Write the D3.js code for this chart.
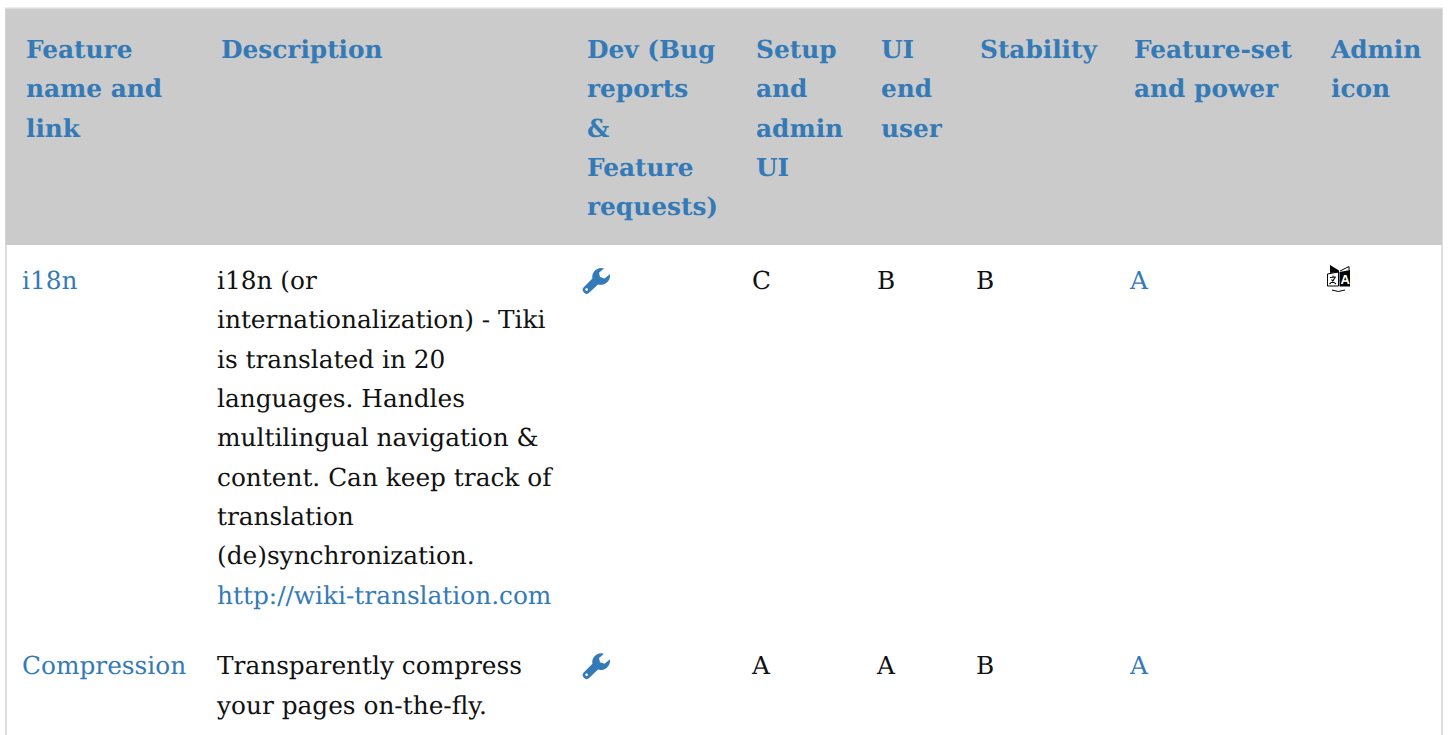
<!DOCTYPE html>
<html>
<head>
<meta charset="utf-8">
<style>
  html, body { margin: 0; padding: 0; background: #fff; overflow: hidden; }
  text { font-family: "DejaVu Serif"; font-size: 24.8px; text-rendering: geometricPrecision; }
  .head { font-weight: bold; fill: #337ab7; }
  .cell { fill: #111; }
  .link { fill: #337ab7; }
</style>
</head>
<body>
<svg width="1448" height="735"></svg>
<script src="https://d3js.org/d3.v7.min.js"></script>
<script>
var columns = ["name", "desc", "dev", "setup", "ui", "stability", "power", "icon"];

var headers = [
  ["Feature", "name and", "link"],
  ["Description"],
  ["Dev (Bug", "reports", "&", "Feature", "requests)"],
  ["Setup", "and", "admin", "UI"],
  ["UI", "end", "user"],
  ["Stability"],
  ["Feature-set", "and power"],
  ["Admin", "icon"]
];

var featureNames = ["i18n", "Compression"];
var descriptions = [
  ["i18n (or", "internationalization) - Tiki", "is translated in 20", "languages. Handles", "multilingual navigation &", "content. Can keep track of", "translation", "(de)synchronization."],
  ["Transparently compress", "your pages on-the-fly."]
];
var descriptionLinks = ["http://wiki-translation.com", null];
var setupGrades = ["C", "A"];
var uiGrades = ["B", "A"];
var stabilityGrades = ["B", "B"];
var powerGrades = ["A", "A"];
var adminIcons = [true, false];

var headX = [26, 221, 587, 756, 881, 980, 1134, 1331];
var bodyOffset = -4;
var lineH = 39.35;
var headTop = 58;
var rowTops = [289, 674.2];

var x = d3.scaleOrdinal().domain(columns).range(headX);
var bx = function(c) { return x(c) + bodyOffset; };

var svg = d3.select("svg");

// table frame
svg.append("rect").attr("x", 6).attr("y", 8.5).attr("width", 1436).attr("height", 740)
  .attr("fill", "#fff").attr("stroke", "#ddd").attr("stroke-width", 2);
svg.append("rect").attr("x", 5.5).attr("y", 9).attr("width", 1436.5).attr("height", 236)
  .attr("fill", "#cbcbcb");

// header cells
headers.forEach(function(lines, i) {
  svg.append("g").selectAll("text").data(lines).enter().append("text")
    .attr("class", "head")
    .attr("x", x(columns[i]))
    .attr("y", function(d, j) { return headTop + j * lineH; })
    .text(function(d) { return d; });
});

function cell(col, y, txt, cls) {
  svg.append("text").attr("class", cls).attr("x", bx(col)).attr("y", y).text(txt);
}

function wrench(px, py) {
  // wrench glyph, open jaw top right, handle bottom left
  var g = svg.append("g").attr("transform", "translate(" + px + "," + py + ")");
  g.append("path")
    .attr("fill", "#337ab7")
    .attr("fill-rule", "evenodd")
    .attr("d", "M18,0 A9,9 0 0 0 9.4,10.6 L1,19 A3.8,3.8 0 0 0 6.4,24.6 L15,16.4 A9.2,9.2 0 0 0 27,7.4 L27,6 L21.6,10.6 L17,9 L16,4.8 L21,0.6 A9,9 0 0 0 18,0 Z M3.6,20.2 A1.4,1.4 0 1 0 3.6,23 A1.4,1.4 0 1 0 3.6,20.2 Z");
}

function translateIcon(px, py) {
  var g = svg.append("g").attr("transform", "translate(" + px + "," + py + ")");
  g.append("path").attr("d", "M0.5,9 L11.5,7 L11.5,21 L0.5,21 Z").attr("fill", "#fff").attr("stroke", "#000").attr("stroke-width", 1);
  g.append("path").attr("d", "M12.5,7 L23,5 L23,21.5 L12.5,21.5 Z").attr("fill", "#000");
  g.append("path").attr("d", "M3,0 L12,5.5 L12,7 L3,8 Z").attr("fill", "#000");
  g.append("path").attr("d", "M13,6 L22,1.5 L22,5").attr("fill", "none").attr("stroke", "#000").attr("stroke-width", 1);
  g.append("path").attr("d", "M3,12.5 L9,12 M6,10.5 L6,12.5 M8,12.5 Q6,17 2.5,19 M4.5,14.5 Q6,17 9,19").attr("fill", "none").attr("stroke", "#000").attr("stroke-width", 1.1);
  g.append("text").attr("x", 13.5).attr("y", 18.5).attr("fill", "#fff")
    .style("font-family", "Liberation Sans").style("font-size", "13px").style("font-weight", "bold").text("A");
  g.append("path").attr("d", "M5,25 Q11,28 18,25").attr("fill", "none").attr("stroke", "#000").attr("stroke-width", 1);
}

// body rows
featureNames.forEach(function(name, i) {
  var y = rowTops[i];
  cell("name", y, name, "link");
  descriptions[i].forEach(function(line, j) {
    cell("desc", y + j * lineH, line, "cell");
  });
  if (descriptionLinks[i]) cell("desc", y + descriptions[i].length * lineH, descriptionLinks[i], "link");
  wrench(583, y - 21);
  cell("setup", y, setupGrades[i], "cell");
  cell("ui", y, uiGrades[i], "cell");
  cell("stability", y, stabilityGrades[i], "cell");
  cell("power", y, powerGrades[i], "link");
  if (adminIcons[i]) translateIcon(1327, y - 24);
});
</script>
</body>
</html>
